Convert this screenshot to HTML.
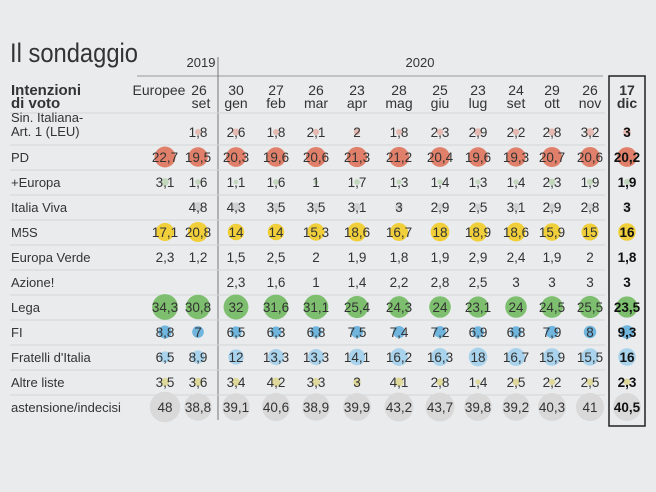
<!DOCTYPE html>
<html><head><meta charset="utf-8"><style>
body{margin:0;background:#e9ebed;}
svg{display:block;font-family:"Liberation Sans",sans-serif;}
</style></head><body>
<svg width="656" height="492" viewBox="0 0 656 492">
<rect width="656" height="492" fill="#e9ebed"/>
<text x="10" y="62" font-size="27" fill="#333" textLength="128" lengthAdjust="spacingAndGlyphs">Il sondaggio</text>
<text x="201" y="67" font-size="13" fill="#333" text-anchor="middle">2019</text>
<text x="420" y="67" font-size="13" fill="#333" text-anchor="middle">2020</text>
<line x1="137" y1="76" x2="603" y2="76" stroke="#999" stroke-width="1"/>
<line x1="218" y1="57" x2="218" y2="420" stroke="#777" stroke-width="1"/>
<text x="11" y="95" font-size="15" font-weight="bold" fill="#333">Intenzioni</text>
<text x="11" y="108" font-size="15" font-weight="bold" fill="#333">di voto</text>
<g id="grid"></g>
<g id="cols"></g>
<g id="rows"></g>
<rect x="609" y="76" width="36" height="350" fill="none" stroke="#222" stroke-width="1.5"/>
</svg>
<script>
const colTop=["Europee","26","30","27","26","23","28","25","23","24","29","26","17"];
const colBot=["","set","gen","feb","mar","apr","mag","giu","lug","set","ott","nov","dic"];
const parties=["Sin. Italiana-|Art. 1 (LEU)","PD","+Europa","Italia Viva","M5S","Europa Verde","Azione!","Lega","FI","Fratelli d'Italia","Altre liste","astensione/indecisi"];
const sinValues=[null,1.8,2.6,1.8,2.1,2,1.8,2.3,2.9,2.2,2.8,3.2,3];
const pdValues=[22.7,19.5,20.3,19.6,20.6,21.3,21.2,20.4,19.6,19.3,20.7,20.6,20.2];
const europaValues=[3.1,1.6,1.1,1.6,1,1.7,1.3,1.4,1.3,1.4,2.3,1.9,1.9];
const ivValues=[null,4.8,4.3,3.5,3.5,3.1,3,2.9,2.5,3.1,2.9,2.8,3];
const m5sValues=[17.1,20.8,14,14,15.3,18.6,16.7,18,18.9,18.6,15.9,15,16];
const verdeValues=[2.3,1.2,1.5,2.5,2,1.9,1.8,1.9,2.9,2.4,1.9,2,1.8];
const azioneValues=[null,null,2.3,1.6,1,1.4,2.2,2.8,2.5,3,3,3,3];
const legaValues=[34.3,30.8,32,31.6,31.1,25.4,24.3,24,23.1,24,24.5,25.5,23.5];
const fiValues=[8.8,7,6.5,6.3,6.8,7.5,7.4,7.2,6.9,6.8,7.9,8,9.3];
const fdiValues=[6.5,8.9,12,13.3,13.3,14.1,16.2,16.3,18,16.7,15.9,15.5,16];
const altreValues=[3.5,3.6,3.4,4.2,3.3,3,4.1,2.8,1.4,2.5,2.2,2.5,2.3];
const astValues=[48,38.8,39.1,40.6,38.9,39.9,43.2,43.7,39.8,39.2,40.3,41,40.5];
const series=[sinValues,pdValues,europaValues,ivValues,m5sValues,verdeValues,azioneValues,legaValues,fiValues,fdiValues,altreValues,astValues];
const colors=["#e28a78","#e0806a","#9cc48a","#b8b8b8","#f0cf3a",null,null,"#7dbf6e","#6fb5de","#a9d3ec","#d8c84c","#d9d9d9"];
const showBubble=[true,true,true,true,true,false,false,true,true,true,true,true];
const colX=[165,198,236,276,316,357,399,440,478,516,552,590,627];
const NS="http://www.w3.org/2000/svg";
function xAt(i){return colX[i];}
function yAt(r){return r===0?132:157+(r-1)*25;}
function rAt(v){return 2.2*Math.sqrt(v);}
function fmt(v){return String(v).replace('.',',');}
const cols=document.getElementById('cols'),rows=document.getElementById('rows'),grid=document.getElementById('grid');
function mk(tag,attrs,parent){const e=document.createElementNS(NS,tag);for(const k in attrs)e.setAttribute(k,attrs[k]);parent.appendChild(e);return e;}
colTop.forEach((t,i)=>{
  const last=i===colTop.length-1;
  const bot=colBot[i];
  const a=mk('text',{x:i===0?xAt(i)-6:xAt(i)+(i===1?1:0),y:95,'font-size':14,fill:'#333','text-anchor':'middle','font-weight':last?'bold':'normal'},cols);
  a.textContent=t;
  
  
  if(bot){const b=mk('text',{x:xAt(i)+(i===1?3:0),y:108,'font-size':14,fill:'#333','text-anchor':'middle','font-weight':last?'bold':'normal'},cols);
  b.textContent=bot;
  
  }
});
const seps=[113,145,170,195,220,245,270,295,320,345,370,395];
seps.forEach((y,i)=>{const l=mk('line',{x1:10,x2:605,y1:y,y2:y,stroke:'#d2d5d8','stroke-width':1},grid);

});
parties.forEach((p,r)=>{
  const y=yAt(r);
  const parts=p.split('|');
  const lab=mk('text',{x:11,y:parts.length>1?y-10:y+5,'font-size':13,fill:'#333'},rows);
  
  
  parts.forEach((s,k)=>{const ts=mk('tspan',{x:11,dy:k?14:0},lab);ts.textContent=s;});
  series[r].forEach((v,i)=>{
    if(v===null)return;
    if(showBubble[r]){const c=mk('circle',{cx:xAt(i),cy:y,r:rAt(v),fill:colors[r],opacity:r===0||r===2||r===3||r===10?0.5:1},rows);
    
    }
    const last=i===series[r].length-1;
    const t=mk('text',{x:xAt(i),y:y+5,'font-size':13.5,fill:last?'#111':'#333','text-anchor':'middle','font-weight':last?'bold':'normal'},rows);
    t.textContent=fmt(v);
    
    
  });
});
</script>
</body></html>
